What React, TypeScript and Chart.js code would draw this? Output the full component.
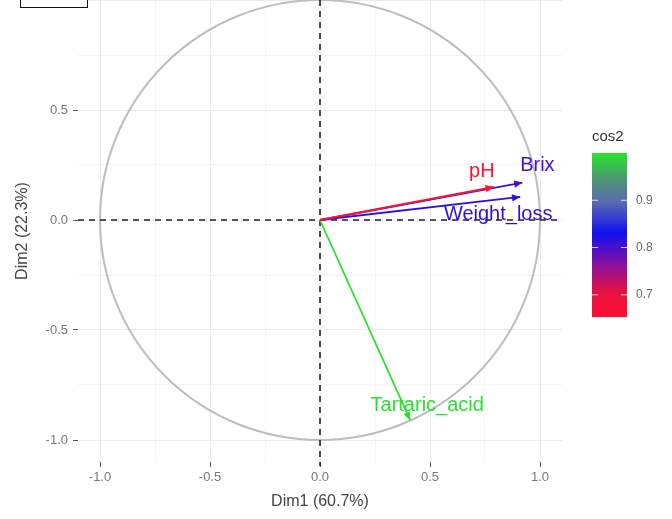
import React, { useEffect, useRef } from "react";
import { Chart, registerables } from "chart.js";
Chart.register(...registerables);

const variables = ["pH", "Brix", "Weight_loss", "Tartaric_acid"];
const dim1 = [0.79, 0.92, 0.91, 0.41];
const dim2 = [0.15, 0.17, 0.105, -0.91];
const cos2 = [0.647, 0.8, 0.815, 0.995];

const xTickValues = [-1, -0.5, 0, 0.5, 1];
const yTickValues = [-1, -0.5, 0, 0.5];
const legendTicks = [0.7, 0.8, 0.9];
const cosMin = 0.653;
const cosMax = 1.0;

const xLabel = "Dim1 (60.7%)";
const yLabel = "Dim2 (22.3%)";
const legendTitle = "cos2";

// gradient stops: fraction from low (0) to high (1)
const gradStops: [number, number[]][] = [
  [0, [255, 16, 48]],
  [0.15, [232, 16, 64]],
  [0.32, [138, 16, 160]],
  [0.51, [16, 16, 240]],
  [0.7, [90, 106, 176]],
  [0.85, [74, 154, 112]],
  [1, [40, 230, 40]],
];

const labelOffsets: Record<string, [number, number]> = {
  pH: [-12, -16],
  Brix: [15, -17],
  Weight_loss: [-22, 18],
  Tartaric_acid: [17, -15],
};

const FONT = '"Liberation Sans", Arial, sans-serif';

function colorFor(v: number): string {
  let t = (v - cosMin) / (cosMax - cosMin);
  t = Math.max(0, Math.min(1, t));
  for (let i = 0; i < gradStops.length - 1; i++) {
    const [a, ca] = gradStops[i];
    const [b, cb] = gradStops[i + 1];
    if (t >= a && t <= b) {
      const f = (t - a) / (b - a);
      const c = ca.map((x, k) => Math.round(x + (cb[k] - x) * f));
      return `rgb(${c[0]},${c[1]},${c[2]})`;
    }
  }
  const c = gradStops[gradStops.length - 1][1];
  return `rgb(${c[0]},${c[1]},${c[2]})`;
}

const isMajor = (v: number) => Math.abs(v * 2 - Math.round(v * 2)) < 1e-6;

export default function App() {
  const ref = useRef<HTMLCanvasElement>(null);
  useEffect(() => {
    const canvas = ref.current!;
    const colors = cos2.map(colorFor);

    const pcaPlugin = {
      id: "pca",
      beforeDatasetsDraw(chart: any) {
        const { ctx, chartArea, scales } = chart;
        const xs = scales.x, ys = scales.y;
        const cx = xs.getPixelForValue(0), cy = ys.getPixelForValue(0);
        const r = xs.getPixelForValue(1) - cx;
        ctx.save();
        ctx.beginPath();
        ctx.rect(chartArea.left, chartArea.top, chartArea.right - chartArea.left, chartArea.bottom - chartArea.top);
        ctx.clip();
        ctx.strokeStyle = "#bdbdbd";
        ctx.lineWidth = 2;
        ctx.beginPath();
        ctx.arc(cx, cy, r, 0, Math.PI * 2);
        ctx.stroke();
        ctx.restore();
        ctx.save();
        ctx.strokeStyle = "#222";
        ctx.lineWidth = 1.6;
        ctx.setLineDash([6, 5]);
        ctx.beginPath();
        ctx.moveTo(chartArea.left, cy);
        ctx.lineTo(chartArea.right, cy);
        ctx.moveTo(cx, chartArea.top);
        ctx.lineTo(cx, chartArea.bottom + 4);
        ctx.stroke();
        ctx.restore();
      },
      afterDatasetsDraw(chart: any) {
        const { ctx, scales } = chart;
        const xs = scales.x, ys = scales.y;
        const x0 = xs.getPixelForValue(0), y0 = ys.getPixelForValue(0);
        ctx.save();
        variables.forEach((name, i) => {
          const px = xs.getPixelForValue(dim1[i]);
          const py = ys.getPixelForValue(dim2[i]);
          const ang = Math.atan2(py - y0, px - x0);
          const L = 9, W = 0.42;
          ctx.fillStyle = colors[i];
          ctx.beginPath();
          ctx.moveTo(px, py);
          ctx.lineTo(px - L * Math.cos(ang - W), py - L * Math.sin(ang - W));
          ctx.lineTo(px - L * Math.cos(ang + W), py - L * Math.sin(ang + W));
          ctx.closePath();
          ctx.fill();
          const off = labelOffsets[name] || [0, 0];
          ctx.font = `20px ${FONT}`;
          ctx.textAlign = "center";
          ctx.textBaseline = "middle";
          ctx.fillText(name, px + off[0], py + off[1]);
        });
        ctx.restore();
      },
      afterDraw(chart: any) {
        const { ctx } = chart;
        const barL = 592, barR = 627, barT = 153, barB = 317;
        ctx.save();
        const g = ctx.createLinearGradient(0, barB, 0, barT);
        gradStops.forEach(([f, c]) => g.addColorStop(f, `rgb(${c[0]},${c[1]},${c[2]})`));
        ctx.fillStyle = g;
        ctx.fillRect(barL, barT, barR - barL, barB - barT);
        ctx.font = `15px ${FONT}`;
        ctx.fillStyle = "#333";
        ctx.textAlign = "left";
        ctx.textBaseline = "middle";
        ctx.fillText(legendTitle, 592, 137);
        ctx.font = `12px ${FONT}`;
        legendTicks.forEach((v) => {
          const y = barB - ((v - cosMin) / (cosMax - cosMin)) * (barB - barT);
          ctx.strokeStyle = "rgba(255,255,255,0.8)";
          ctx.lineWidth = 1;
          ctx.beginPath();
          ctx.moveTo(barL, y); ctx.lineTo(barL + 6, y);
          ctx.moveTo(barR - 6, y); ctx.lineTo(barR, y);
          ctx.stroke();
          ctx.fillStyle = "#666";
          ctx.fillText(v.toFixed(1), 636, y);
        });
        ctx.restore();
      },
    };

    const chart = new Chart(canvas, {
      type: "scatter",
      data: {
        datasets: variables.map((name, i) => ({
          label: name,
          data: [{ x: 0, y: 0 }, { x: dim1[i], y: dim2[i] }],
          showLine: true,
          borderColor: colors[i],
          backgroundColor: colors[i],
          borderWidth: 1.8,
          pointRadius: 0,
        })),
      },
      options: {
        animation: false,
        responsive: true,
        maintainAspectRatio: false,
        layout: { padding: { top: 0, right: 110, bottom: 0, left: 0 } },
        plugins: { legend: { display: false }, tooltip: { enabled: false } },
        scales: {
          x: {
            type: "linear",
            min: -1.1,
            max: 1.1,
            border: { display: false },
            afterFit: (s: any) => { s.height = 57; s.paddingLeft = 0; s.paddingRight = 0; },
            afterBuildTicks: (s: any) => {
              s.ticks = [-1, -0.75, -0.5, -0.25, 0, 0.25, 0.5, 0.75, 1].map((v) => ({ value: v }));
            },
            ticks: {
              includeBounds: false,
              autoSkip: false,
              maxRotation: 0,
              padding: 3,
              color: "#777",
              font: { size: 13, family: FONT },
              callback: (v: any) => (xTickValues.some((t) => Math.abs(t - v) < 1e-6) ? Number(v).toFixed(1) : ""),
            },
            grid: {
              color: (c: any) => (isMajor(c.tick?.value ?? 0) ? "#ececec" : "#f5f5f5"),
              tickColor: (c: any) => (isMajor(c.tick?.value ?? 0) ? "#555" : "rgba(0,0,0,0)"),
              tickLength: 5,
              lineWidth: 1,
            },
            title: {
              display: true,
              text: xLabel,
              color: "#444",
              font: { size: 16, family: FONT },
              padding: { top: 0, bottom: 8 },
            },
          },
          y: {
            type: "linear",
            min: -1.1,
            max: 1.0,
            border: { display: false },
            afterFit: (s: any) => { s.width = 78; s.paddingTop = 0; s.paddingBottom = 0; },
            afterBuildTicks: (s: any) => {
              s.ticks = [-1, -0.75, -0.5, -0.25, 0, 0.25, 0.5, 0.75, 1].map((v) => ({ value: v }));
            },
            ticks: {
              includeBounds: false,
              autoSkip: false,
              padding: 5,
              color: "#777",
              font: { size: 13, family: FONT },
              callback: (v: any) => (yTickValues.some((t) => Math.abs(t - v) < 1e-6) ? Number(v).toFixed(1) : ""),
            },
            grid: {
              color: (c: any) => (isMajor(c.tick?.value ?? 0) ? "#ececec" : "#f5f5f5"),
              tickColor: (c: any) => {
                const v = c.tick?.value ?? 0;
                return isMajor(v) && v < 0.9 ? "#555" : "rgba(0,0,0,0)";
              },
              tickLength: 5,
              lineWidth: 1,
            },
            title: {
              display: true,
              text: yLabel,
              color: "#444",
              font: { size: 16, family: FONT },
              padding: { top: 13, bottom: 0 },
            },
          },
        },
      },
      plugins: [pcaPlugin],
    } as any);
    return () => chart.destroy();
  }, []);

  return (
    <div style={{ position: "fixed", left: 0, top: 0, width: 672, height: 519, background: "#fff" }}>
      <canvas ref={ref} />
      <div
        style={{
          position: "absolute",
          left: 20,
          top: -3,
          width: 66,
          height: 9,
          border: "1px solid #111",
          background: "#fff",
        }}
      />
    </div>
  );
}
